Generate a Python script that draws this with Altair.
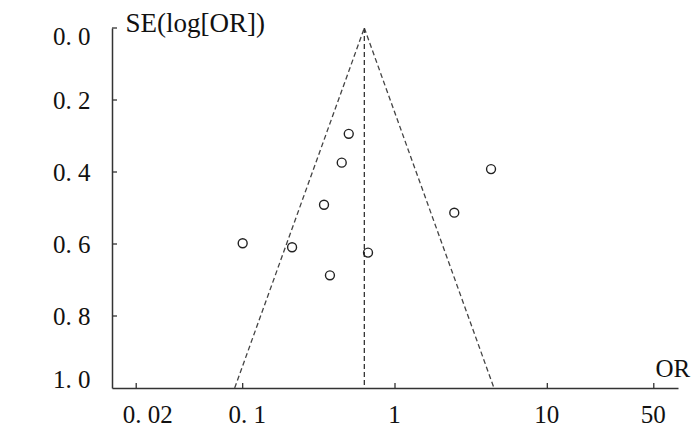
import altair as alt
import pandas as pd

# Study estimates (odds ratio, standard error of log OR)
study_or = [0.497, 0.447, 0.342, 0.100, 0.211, 0.665, 0.374, 4.27, 2.45]
study_se = [0.294, 0.374, 0.491, 0.598, 0.609, 0.624, 0.687, 0.392, 0.513]

# Funnel (pooled OR at apex, pseudo 95% limits at SE = 1)
pooled_or = 0.629
funnel_se = [0.0, 1.0]
funnel_left = [pooled_or, 0.0886]
funnel_right = [pooled_or, 4.465]
center_or = [pooled_or, pooled_or]

x_ticks = [0.02, 0.1, 1, 10, 50]
y_ticks = [0.0, 0.2, 0.4, 0.6, 0.8, 1.0]

W, H = 566, 360
FONT = "Liberation Serif"

pts = pd.DataFrame({"OR": study_or, "SE": study_se})
funnel = pd.DataFrame({
    "OR": funnel_left + funnel_right,
    "SE": funnel_se + funnel_se,
    "side": ["left"] * 2 + ["right"] * 2,
})
center = pd.DataFrame({"OR": center_or, "SE": funnel_se})
xt = pd.DataFrame({"OR": x_ticks})
yt = pd.DataFrame({"SE": y_ticks[:-1]})

x_scale = alt.Scale(type="log", domain=[0.01387, 72.1], nice=False)
y_scale = alt.Scale(domain=[0, 1], reverse=True, nice=False, zero=False)

x_axis = alt.Axis(
    values=x_ticks, grid=False, ticks=False, tickSize=0,
    labelExpr="replace(toString(datum.value), '.', '. ')",
    labelPadding=14, labelBaseline="top", labelFontSize=25, labelFont=FONT,
    labelColor="#111", labelFlush=False,
    labelOffset={"condition": [{"test": "datum.value < 0.05", "value": 11},
                               {"test": "datum.value < 0.5", "value": 4}],
                 "value": -1},
    domainColor="#333", domainWidth=1.5,
    title="OR", titleX=543, titleY=-12, titleAlign="left",
    titleBaseline="alphabetic", titleFont=FONT, titleFontSize=25,
    titleFontWeight="normal", titleColor="#111",
)
y_axis = alt.Axis(
    values=y_ticks, grid=False, ticks=False, tickSize=0,
    labelExpr="replace(format(datum.value, '.1f'), '.', '. ')",
    labelPadding=22, labelFontSize=25, labelFont=FONT, labelColor="#111",
    labelFlush=True, labelFlushOffset=4,
    domainColor="#333", domainWidth=1.5,
    title="SE(log[OR])", titleAngle=0, titleX=13, titleY=3.7,
    titleAlign="left", titleBaseline="alphabetic", titleFont=FONT,
    titleFontSize=27, titleFontWeight="normal", titleColor="#111",
)

x_enc = alt.X("OR:Q", scale=x_scale, axis=x_axis)
y_enc = alt.Y("SE:Q", scale=y_scale, axis=y_axis)

funnel_lines = alt.Chart(funnel).mark_line(
    color="#444", strokeWidth=1.3, strokeDash=[5, 3], clip=True
).encode(x=x_enc, y=y_enc, detail="side:N")

center_line = alt.Chart(center).mark_line(
    color="#333", strokeWidth=1.3, strokeDash=[5, 3]
).encode(x=x_enc, y=y_enc)

points = alt.Chart(pts).mark_point(
    shape="circle", filled=False, size=80, color="#222", strokeWidth=1.4, opacity=1
).encode(x=x_enc, y=y_enc)

xtick_marks = alt.Chart(xt).mark_rule(color="#333", strokeWidth=1.3).encode(
    x=alt.X("OR:Q", scale=x_scale, axis=x_axis),
    y=alt.value(H - 5), y2=alt.value(H),
)
ytick_marks = alt.Chart(yt).mark_rule(color="#333", strokeWidth=1.3).encode(
    y=alt.Y("SE:Q", scale=y_scale, axis=y_axis),
    x=alt.value(0), x2=alt.value(5),
)

chart = alt.layer(funnel_lines, center_line, xtick_marks, ytick_marks, points).properties(
    width=W, height=H,
    autosize=alt.AutoSizeParams(type="none"),
    padding={"left": 104, "top": 20, "right": 14, "bottom": 49},
    background="white",
).configure_view(stroke=None)

chart.save("out.html", embed_options={"renderer": "svg", "actions": False})
